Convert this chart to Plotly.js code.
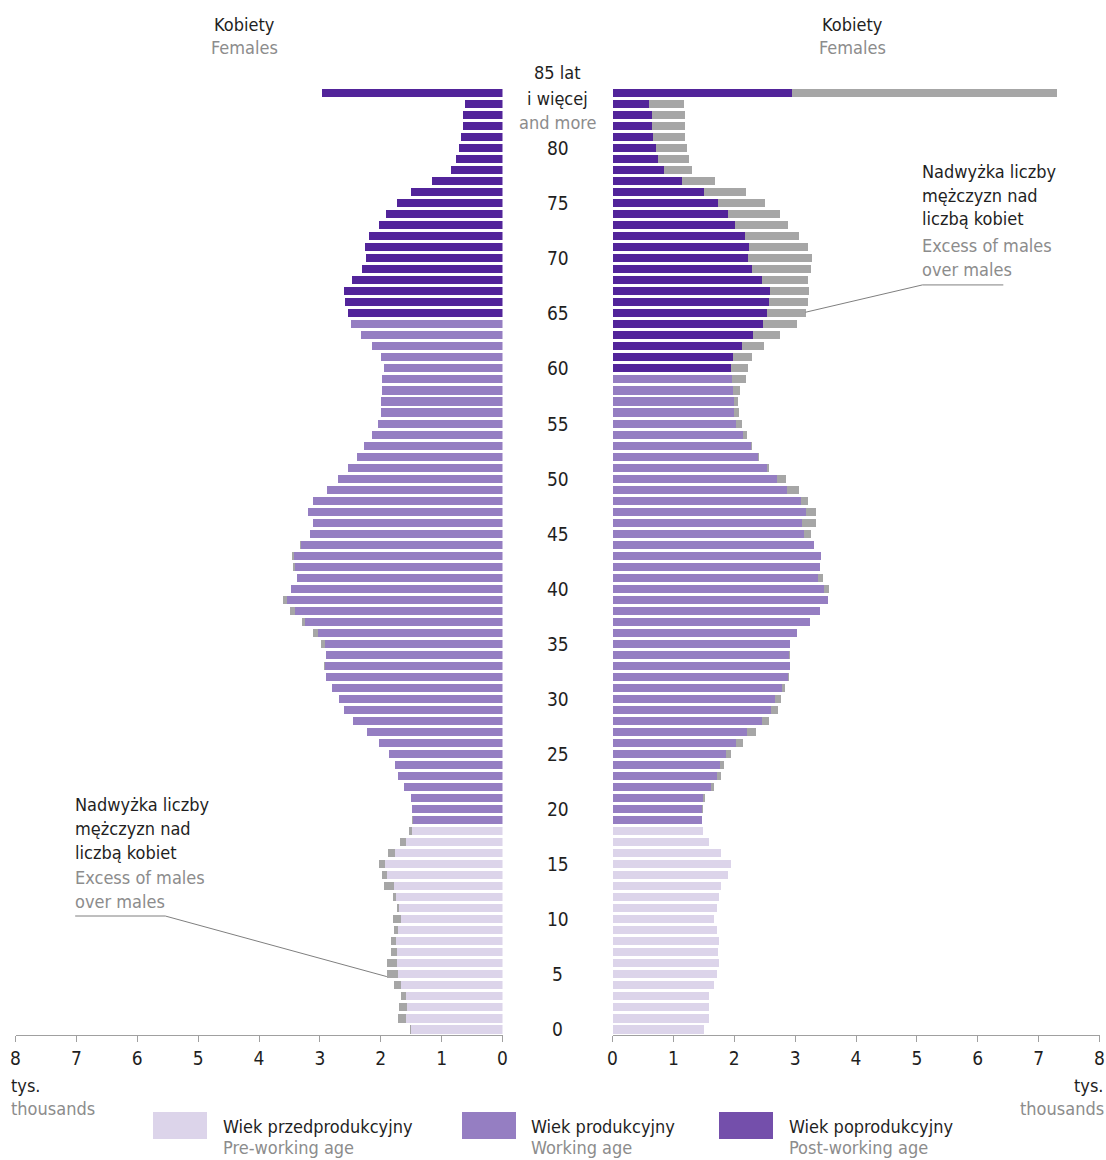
<!DOCTYPE html>
<html><head><meta charset="utf-8">
<script src="https://cdn.plot.ly/plotly-3.0.1.min.js"></script>
<style>html,body{margin:0;padding:0;background:#fff}</style>
</head><body><div id="chart" style="width:1106px;height:1160px"></div>
<script>
const ages = [0,1,2,3,4,5,6,7,8,9,10,11,12,13,14,15,16,17,18,19,20,21,22,23,24,25,26,27,28,29,30,31,32,33,34,35,36,37,38,39,40,41,42,43,44,45,46,47,48,49,50,51,52,53,54,55,56,57,58,59,60,61,62,63,64,65,66,67,68,69,70,71,72,73,74,75,76,77,78,79,80,81,82,83,84,85];

const leftMain = [1.505,1.587,1.57,1.587,1.669,1.718,1.735,1.735,1.752,1.718,
  1.669,1.702,1.752,1.785,1.9,1.933,1.768,1.587,1.488,1.472,
  1.488,1.505,1.62,1.718,1.768,1.867,2.031,2.229,2.459,2.607,
  2.69,2.804,2.903,2.92,2.903,2.92,3.035,3.248,3.413,3.544,
  3.479,3.38,3.413,3.43,3.314,3.166,3.117,3.2,3.117,2.887,
  2.7,2.54,2.39,2.28,2.146,2.05,2.0,2.0,1.98,1.98,
  1.95,2.0,2.146,2.327,2.49,2.54,2.59,2.607,2.475,2.31,
  2.245,2.26,2.195,2.03,1.916,1.735,1.505,1.16,0.847,0.765,
  0.715,0.68,0.65,0.65,0.617,2.97];

const leftExcess = [0.016,0.131,0.132,0.082,0.116,0.182,0.165,0.099,0.082,0.067,
  0.131,0.033,0.048,0.165,0.08,0.098,0.115,0.099,0.05,0.016,
  0,0,0,0,0,0,0,0,0,0,
  0,0,0,0.016,0,0.065,0.082,0.05,0.082,0.066,
  0,0,0.033,0.03,0.016,0,0,0,0,0,
  0,0,0,0,0,0,0,0,0,0,
  0,0,0,0,0,0,0,0,0,0,
  0,0,0,0,0,0,0,0,0,0,
  0,0,0,0,0,0];

const rightMain = [1.497,1.579,1.579,1.579,1.661,1.71,1.743,1.727,1.743,1.71,
  1.661,1.71,1.743,1.776,1.891,1.941,1.776,1.579,1.48,1.464,
  1.464,1.48,1.612,1.71,1.76,1.859,2.023,2.204,2.451,2.599,
  2.664,2.78,2.878,2.911,2.895,2.911,3.026,3.24,3.404,3.536,
  3.47,3.372,3.404,3.421,3.306,3.141,3.108,3.174,3.092,2.862,
  2.698,2.533,2.385,2.27,2.138,2.023,1.99,1.99,1.974,1.957,
  1.941,1.974,2.122,2.303,2.467,2.533,2.566,2.582,2.451,2.286,
  2.22,2.237,2.171,2.007,1.891,1.727,1.497,1.135,0.839,0.74,
  0.707,0.658,0.641,0.641,0.592,2.944];

const rightExcess = [0,0,0,0,0,0,0,0,0,0,
  0,0,0,0,0,0,0,0,0,0,
  0.016,0.033,0.049,0.066,0.066,0.082,0.115,0.148,0.115,0.115,
  0.099,0.049,0.017,0,0.016,0,0,0,0,0,
  0.083,0.082,0,0,0,0.116,0.231,0.165,0.115,0.197,
  0.147,0.033,0.015,0.016,0.066,0.099,0.082,0.066,0.115,0.231,
  0.279,0.312,0.362,0.444,0.559,0.641,0.641,0.642,0.756,0.971,
  1.053,0.97,0.888,0.871,0.856,0.773,0.691,0.543,0.46,0.51,
  0.51,0.526,0.543,0.543,0.576,4.356];

const preWorkingMaxAge = 18;
const leftWorkingMaxAge = 64;
const rightWorkingMaxAge = 59;

const xTickVals = [0,1,2,3,4,5,6,7,8];
const ageTickVals = [0,5,10,15,20,25,30,35,40,45,50,55,60,65,70,75,80];
const topAgeLines = ['85 lat','i więcej','and more'];
const sideTitle = ['Kobiety','Females'];
const noteLines = ['Nadwyżka liczby','mężczyzn nad','liczbą kobiet','Excess of males','over males'];
const unitLines = ['tys.','thousands'];
const legendPl = ['Wiek przedprodukcyjny','Wiek produkcyjny','Wiek poprodukcyjny'];
const legendEn = ['Pre-working age','Working age','Post-working age'];

const W = 1106, H = 1160;
const FONT = 'DejaVu Sans Condensed, Liberation Sans Narrow, Arial Narrow, sans-serif';
const FS = 18;
const BLACK = '#1f1f1f', GREY = '#8c8c8c';
const C_PRE = '#dcd4ea', C_WORK = '#957ec2', C_POST = '#52249a', C_EX = '#a6a6a6';
const LEG_COLORS = ['#dcd4ea', '#957ec2', '#744fab'];

function colorFor(age, workMax) {
  if (age <= preWorkingMaxAge) return C_PRE;
  if (age <= workMax) return C_WORK;
  return C_POST;
}
const px = x => x / W;
const py = y => 1 - y / H;

const traces = [
  {type:'bar', orientation:'h', x:leftMain, y:ages, xaxis:'x', yaxis:'y',
   marker:{color:ages.map(a=>colorFor(a,leftWorkingMaxAge))}, hoverinfo:'x+y'},
  {type:'bar', orientation:'h', x:leftExcess, y:ages, xaxis:'x', yaxis:'y',
   marker:{color:C_EX}, hoverinfo:'x+y'},
  {type:'bar', orientation:'h', x:rightMain, y:ages, xaxis:'x2', yaxis:'y',
   marker:{color:ages.map(a=>colorFor(a,rightWorkingMaxAge))}, hoverinfo:'x+y'},
  {type:'bar', orientation:'h', x:rightExcess, y:ages, xaxis:'x2', yaxis:'y',
   marker:{color:C_EX}, hoverinfo:'x+y'}
];

const axisCommon = {
  tickvals:xTickVals, showgrid:false, zeroline:false, showline:true,
  linecolor:'#a0a0a0', linewidth:1, ticks:'outside', ticklen:6, tickcolor:'#a0a0a0',
  tickfont:{family:FONT, size:19, color:BLACK}, ticklabelstandoff:0, fixedrange:true, anchor:'y'
};

const annotations = [];
function txt(x, y, text, color, xanchor) {
  const xa = xanchor || 'center';
  const dx = xa === 'left' ? -2 : (xa === 'right' ? 2 : 0);
  annotations.push({xref:'paper', yref:'paper', x:px(x + dx), y:py(y), text:text, showarrow:false,
    xanchor:xa, yanchor:'middle', font:{family:FONT, size:FS, color:color}});
}
// side titles
txt(244, 24, sideTitle[0], BLACK); txt(244, 48, sideTitle[1], GREY);
txt(852, 24, sideTitle[0], BLACK); txt(852, 48, sideTitle[1], GREY);
// age labels (data coords)
ageTickVals.forEach(a => annotations.push({xref:'paper', yref:'y', x:px(557.5), y:a, text:String(a),
  showarrow:false, xanchor:'center', yanchor:'middle', font:{family:FONT, size:19, color:BLACK}}));
txt(557.5, 73, topAgeLines[0], BLACK);
txt(557.5, 98, topAgeLines[1], BLACK);
txt(557.5, 122, topAgeLines[2], GREY);
// notes
const noteYR = [172,195,219,245,269];
const noteYL = [804,828,852,877,901];
noteLines.forEach((t,i) => {
  const c = i < 3 ? BLACK : GREY;
  txt(922, noteYR[i], t, c, 'left');
  txt(75, noteYL[i], t, c, 'left');
});
// units
txt(11, 1085, unitLines[0], BLACK, 'left'); txt(11, 1108, unitLines[1], GREY, 'left');
txt(1104, 1085, unitLines[0], BLACK, 'right'); txt(1104, 1108, unitLines[1], GREY, 'right');
// legend
const legSwX = [153, 462, 719];
const legTxX = [223, 531, 789];
const shapes = [];
legendPl.forEach((t,i) => {
  shapes.push({type:'rect', xref:'paper', yref:'paper', x0:px(legSwX[i]), x1:px(legSwX[i]+54),
    y0:py(1139), y1:py(1112), fillcolor:LEG_COLORS[i], line:{width:0}});
  txt(legTxX[i], 1126, t, BLACK, 'left');
  txt(legTxX[i], 1147, legendEn[i], GREY, 'left');
});
// leader lines (right side in x2/y coords, left in x/y coords)
shapes.push({type:'line', xref:'x2', yref:'y', x0:6.42, y0:67.58, x1:5.09, y1:67.58, line:{color:'#7f7f7f', width:1}});
shapes.push({type:'line', xref:'x2', yref:'y', x0:5.09, y0:67.58, x1:3.17, y1:65.1, line:{color:'#7f7f7f', width:1}});
shapes.push({type:'line', xref:'x', yref:'y', x0:7.02, y0:10.3, x1:5.54, y1:10.3, line:{color:'#7f7f7f', width:1}});
shapes.push({type:'line', xref:'x', yref:'y', x0:5.54, y0:10.3, x1:1.9, y1:4.8, line:{color:'#7f7f7f', width:1}});

const layout = {
  width:W, height:H, margin:{l:0, r:0, t:0, b:0},
  paper_bgcolor:'#fff', plot_bgcolor:'rgba(0,0,0,0)',
  barmode:'stack', bargap:0.27, showlegend:false,
  font:{family:FONT, size:FS, color:BLACK},
  xaxis:Object.assign({}, axisCommon, {domain:[px(15.5), px(502.5)], range:[8,0]}),
  xaxis2:Object.assign({}, axisCommon, {domain:[px(612.5), px(1099.5)], range:[0,8]}),
  yaxis:{domain:[py(1035), py(87.5)], range:[-0.5, 85.5], showticklabels:false, showgrid:false,
    zeroline:false, showline:false, ticks:'', fixedrange:true},
  annotations:annotations, shapes:shapes
};

Plotly.newPlot('chart', traces, layout, {displayModeBar:false, staticPlot:true});
</script>
</body></html>
